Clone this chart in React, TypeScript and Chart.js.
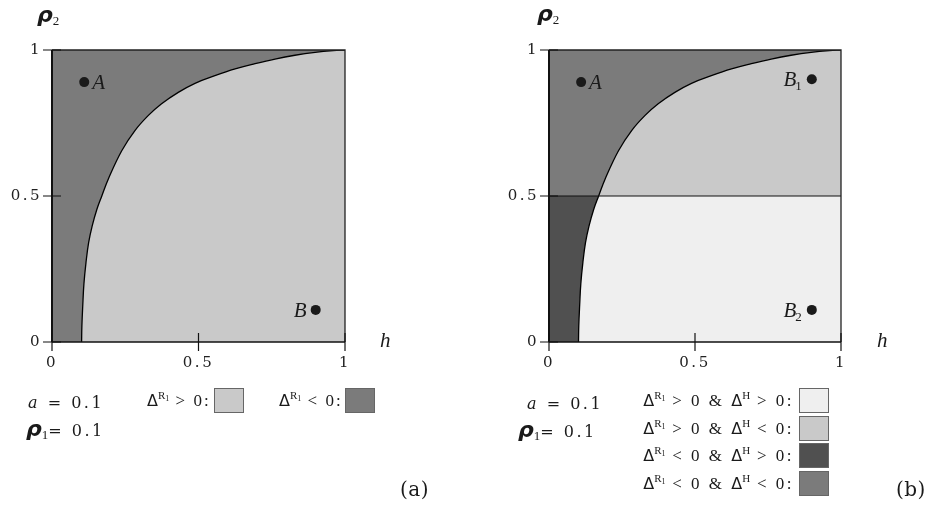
import React, { useEffect, useRef } from 'react';
import { Chart, registerables } from 'chart.js';

Chart.register(...registerables);

// ---------- data ----------
const tickValues = [0, 0.5, 1];
const tickLabels = ['0', '0.5', '1'];

// boundary curve Δ^{R1} = 0
const curveH = [0.101, 0.102, 0.105, 0.109, 0.116, 0.125, 0.137, 0.153, 0.17, 0.193, 0.238, 0.283, 0.329, 0.374, 0.431, 0.488, 0.556, 0.625, 0.693, 0.761, 0.829, 0.898, 0.96, 1.0];
const curveRho = [0, 0.055, 0.125, 0.2, 0.272, 0.34, 0.397, 0.454, 0.5, 0.56, 0.655, 0.724, 0.776, 0.816, 0.855, 0.886, 0.912, 0.935, 0.953, 0.969, 0.982, 0.992, 0.998, 1.0];

// Δ^H = 0 line (panel b)
const bandRho = 0.5;

// marked points
const pointNamesA = ['A', 'B'];
const pointSubsA = ['', ''];
const pointHA = [0.11, 0.9];
const pointRhoA = [0.89, 0.11];

const pointNamesB = ['A', 'B', 'B'];
const pointSubsB = ['', '1', '2'];
const pointHB = [0.11, 0.9, 0.9];
const pointRhoB = [0.89, 0.9, 0.11];

const paramA = '0.1';
const paramRho1 = '0.1';

// legend rows
const legendSignsR1A = ['>', '<'];
const legendSignsR1B = ['>', '>', '<', '<'];
const legendSignsHB = ['>', '<', '>', '<'];

// ---------- styles ----------
const C_DARK = '#7b7b7b';
const C_LIGHT = '#c9c9c9';
const C_LIGHTEST = '#efefef';
const C_DARKEST = '#505050';
const legendColorsA = [C_LIGHT, C_DARK];
const legendColorsB = [C_LIGHTEST, C_LIGHT, C_DARKEST, C_DARK];

const SERIF = "'DejaVu Serif', serif";
const ISERIF = "'Liberation Serif', serif";
const SANS = "'DejaVu Sans', sans-serif";

const curvePts = curveH.map((h, i) => ({ x: h, y: curveRho[i] }));
const TENSION = 0.4;

const framePlugin = {
  id: 'frame',
  beforeDraw(chart: any) {
    (chart.ctx as any).letterSpacing = '2.5px';
  },
  afterDatasetsDraw(chart: any) {
    const { ctx, chartArea, scales } = chart;
    const { left, right, top, bottom } = chartArea;
    const x = scales.x;
    const y = scales.y;
    ctx.save();
    ctx.strokeStyle = '#222';
    ctx.lineWidth = 1.3;
    ctx.beginPath();
    ctx.moveTo(left, top);
    ctx.lineTo(right, top);
    ctx.lineTo(right, bottom);
    ctx.stroke();
    ctx.strokeStyle = '#111';
    ctx.lineWidth = 2;
    ctx.beginPath();
    ctx.moveTo(left, top);
    ctx.lineTo(left, bottom);
    ctx.stroke();
    ctx.lineWidth = 1.5;
    ctx.beginPath();
    ctx.moveTo(left, bottom);
    ctx.lineTo(right, bottom);
    ctx.stroke();
    ctx.lineWidth = 1.2;
    ctx.beginPath();
    tickValues.forEach((v) => {
      const px = x.getPixelForValue(v);
      ctx.moveTo(px, bottom - 9);
      ctx.lineTo(px, bottom + 9);
      const py = y.getPixelForValue(v);
      ctx.moveTo(left - 9, py);
      ctx.lineTo(left + 9, py);
    });
    ctx.stroke();
    ctx.restore();
  },
};

function makeLabelPlugin(names: string[], subs: string[], hs: number[], rhos: number[], sides: string[]) {
  return {
    id: 'pointLabels',
    afterDatasetsDraw(chart: any) {
      const { ctx, scales } = chart;
      ctx.save();
      (ctx as any).letterSpacing = '0px';
      ctx.fillStyle = '#1a1a1a';
      ctx.textBaseline = 'alphabetic';
      names.forEach((name, i) => {
        const px = scales.x.getPixelForValue(hs[i]);
        const py = scales.y.getPixelForValue(rhos[i]);
        ctx.font = `italic 21px ${ISERIF}`;
        const w = ctx.measureText(name).width;
        ctx.font = `13px ${ISERIF}`;
        const ws = subs[i] ? ctx.measureText(subs[i]).width : 0;
        const startX = sides[i] === 'right' ? px + 8 : px - 9 - w - ws;
        const base = py + 7;
        ctx.font = `italic 21px ${ISERIF}`;
        ctx.textAlign = 'left';
        ctx.fillText(name, startX, base);
        if (subs[i]) {
          ctx.font = `13px ${ISERIF}`;
          ctx.fillText(subs[i], startX + w - 1, base + 4);
        }
      });
      ctx.restore();
    },
  };
}

function buildConfig(panel: 'a' | 'b', padRight: number) {
  const full = [
    { x: 0, y: 1 },
    { x: 1, y: 1 },
  ];
  const band = [
    { x: 0, y: bandRho },
    { x: 1, y: bandRho },
  ];
  const noPt = { pointRadius: 0, pointHoverRadius: 0 };
  const T = 'rgba(0,0,0,0)';
  let datasets: any[];
  if (panel === 'a') {
    datasets = [
      { data: full, fill: 'origin', backgroundColor: C_DARK, borderWidth: 0, order: 5, ...noPt },
      { data: curvePts, fill: 'origin', backgroundColor: C_LIGHT, borderColor: '#000', borderWidth: 1.3, tension: TENSION, order: 4, ...noPt },
      {
        data: pointHA.map((h, i) => ({ x: h, y: pointRhoA[i] })),
        showLine: false, pointRadius: 5, pointBackgroundColor: '#1a1a1a', pointBorderWidth: 0, order: 0,
      },
    ];
  } else {
    datasets = [
      { data: band, fill: 'origin', backgroundColor: C_DARKEST, borderWidth: 0, order: 9, ...noPt },
      { data: curvePts, fill: 'origin', backgroundColor: C_LIGHTEST, borderWidth: 0, tension: TENSION, order: 8, ...noPt },
      { data: full, fill: { target: { value: bandRho } }, backgroundColor: C_DARK, borderWidth: 0, order: 7, ...noPt },
      { data: curvePts, fill: { target: { value: bandRho }, above: C_LIGHT, below: T }, backgroundColor: C_LIGHT, borderWidth: 0, tension: TENSION, order: 6, ...noPt },
      { data: curvePts, fill: false, borderColor: '#000', borderWidth: 1.3, tension: TENSION, order: 3, ...noPt },
      { data: band, fill: false, borderColor: '#111', borderWidth: 1.2, order: 2, ...noPt },
      {
        data: pointHB.map((h, i) => ({ x: h, y: pointRhoB[i] })),
        showLine: false, pointRadius: 5, pointBackgroundColor: '#1a1a1a', pointBorderWidth: 0, order: 0,
      },
    ];
  }
  const tickFont = { family: SERIF, size: 15 };
  const cb = (v: any) => {
    const k = tickValues.indexOf(Number(v));
    return k >= 0 ? tickLabels[k] : '';
  };
  const labelPlugin =
    panel === 'a'
      ? makeLabelPlugin(pointNamesA, pointSubsA, pointHA, pointRhoA, ['right', 'left'])
      : makeLabelPlugin(pointNamesB, pointSubsB, pointHB, pointRhoB, ['right', 'left', 'left']);
  return {
    type: 'line' as const,
    data: { datasets },
    options: {
      animation: false,
      responsive: false,
      events: [],
      layout: { padding: { top: 50, left: 0, right: padRight, bottom: 124 } },
      plugins: { legend: { display: false }, tooltip: { enabled: false } },
      scales: {
        x: {
          type: 'linear', min: 0, max: 1,
          afterBuildTicks: (s: any) => { s.ticks = tickValues.map((v) => ({ value: v })); },
          afterFit: (s: any) => { s.height = 40; },
          grid: { drawOnChartArea: false, tickLength: 9, color: 'rgba(0,0,0,0)' },
          border: { display: false },
          ticks: { callback: cb, font: tickFont, color: '#222', padding: 3, maxRotation: 0, autoSkip: false },
        },
        y: {
          type: 'linear', min: 0, max: 1,
          afterBuildTicks: (s: any) => { s.ticks = tickValues.map((v) => ({ value: v })); },
          afterFit: (s: any) => { s.width = 52; },
          grid: { drawOnChartArea: false, tickLength: 9, color: 'rgba(0,0,0,0)' },
          border: { display: false },
          ticks: { callback: cb, font: tickFont, color: '#222', padding: 1, autoSkip: false },
        },
      },
    },
    plugins: [framePlugin, labelPlugin],
  };
}

function ChartPanel({ panel, left, width, padRight }: { panel: 'a' | 'b'; left: number; width: number; padRight: number }) {
  const ref = useRef<HTMLCanvasElement>(null);
  useEffect(() => {
    if (!ref.current) return;
    const chart = new Chart(ref.current, buildConfig(panel, padRight) as any);
    return () => chart.destroy();
  }, [panel, left, width, padRight]);
  return (
    <canvas
      ref={ref}
      width={width}
      height={506}
      style={{ position: 'absolute', left, top: 0, width, height: 506 }}
    />
  );
}

const txt: React.CSSProperties = {
  position: 'absolute',
  fontFamily: SERIF,
  fontSize: 16,
  lineHeight: '18px',
  whiteSpace: 'nowrap',
  color: '#1a1a1a',
  letterSpacing: '2.5px',
};

const rowTxt: React.CSSProperties = {
  ...txt,
  fontFamily: ISERIF,
  fontSize: 17,
};

function Rho({ sub, size = 22 }: { sub: string; size?: number }) {
  return (
    <span>
      <span style={{ fontFamily: SANS, fontStyle: 'italic', fontWeight: 'bold', fontSize: size, letterSpacing: 0 }}>ρ</span>
      <span style={{ fontFamily: ISERIF, fontSize: 13, position: 'relative', top: 3, letterSpacing: 0 }}>{sub}</span>
    </span>
  );
}

function DeltaR1() {
  return (
    <span style={{ letterSpacing: 0 }}>
      <span style={{ fontFamily: SANS, fontSize: 16 }}>Δ</span>
      <span style={{ fontFamily: ISERIF, fontSize: 11, position: 'relative', top: -7 }}>R</span>
      <span style={{ fontFamily: ISERIF, fontSize: 8, position: 'relative', top: -5 }}>1</span>
    </span>
  );
}

function DeltaH() {
  return (
    <span style={{ letterSpacing: 0 }}>
      <span style={{ fontFamily: SANS, fontSize: 16 }}>Δ</span>
      <span style={{ fontFamily: ISERIF, fontSize: 11, position: 'relative', top: -7 }}>H</span>
    </span>
  );
}

function Box({ left, top, color }: { left: number; top: number; color: string }) {
  return (
    <div
      style={{
        position: 'absolute', left, top, width: 28, height: 23,
        background: color, border: '1px solid #666',
      }}
    />
  );
}

function Params({ aLeft, rhoLeft, top }: { aLeft: number; rhoLeft: number; top: number }) {
  return (
    <>
      <div style={{ ...txt, left: aLeft, top }}>
        <span style={{ fontStyle: 'italic' }}>a</span> = {paramA}
      </div>
      <div style={{ ...txt, left: rhoLeft, top: top + 26 }}>
        <Rho sub="1" />= {paramRho1}
      </div>
    </>
  );
}

export default function App() {
  return (
    <div style={{ position: 'absolute', left: 0, top: 0, width: 931, height: 506, background: '#fff', overflow: 'hidden' }}>
      <ChartPanel panel="a" left={0} width={470} padRight={125} />
      <ChartPanel panel="b" left={497} width={434} padRight={90} />

      {/* axis titles */}
      <div style={{ ...txt, left: 37, top: 6 }}><Rho sub="2" /></div>
      <div style={{ ...txt, left: 537, top: 5 }}><Rho sub="2" /></div>
      <div style={{ ...txt, fontFamily: ISERIF, left: 380, top: 331, fontStyle: 'italic', fontSize: 21, letterSpacing: 0 }}>h</div>
      <div style={{ ...txt, fontFamily: ISERIF, left: 877, top: 331, fontStyle: 'italic', fontSize: 21, letterSpacing: 0 }}>h</div>

      {/* panel a legend */}
      <Params aLeft={28} rhoLeft={26} top={394} />
      {legendSignsR1A.map((s, i) => (
        <React.Fragment key={i}>
          <div style={{ ...rowTxt, left: 147 + i * 132, top: 392, letterSpacing: '2px' }}>
            <DeltaR1 />{` ${s} 0:`}
          </div>
          <Box left={214 + i * 131} top={388} color={legendColorsA[i]} />
        </React.Fragment>
      ))}
      <div style={{ ...txt, left: 400, top: 480, fontSize: 20, letterSpacing: '0.5px' }}>(a)</div>

      {/* panel b legend */}
      <Params aLeft={527} rhoLeft={518} top={395} />
      {legendSignsR1B.map((s, i) => (
        <React.Fragment key={i}>
          <div style={{ ...rowTxt, left: 633, top: 392 + i * 27.7, width: 161, textAlign: 'right' }}>
            <DeltaR1 />{` ${s} 0 & `}<DeltaH />{` ${legendSignsHB[i]} 0:`}
          </div>
          <Box left={799} top={388 + i * 27.7} color={legendColorsB[i]} />
        </React.Fragment>
      ))}
      <div style={{ ...txt, left: 896, top: 480, fontSize: 20, letterSpacing: '0.5px' }}>(b)</div>
    </div>
  );
}
